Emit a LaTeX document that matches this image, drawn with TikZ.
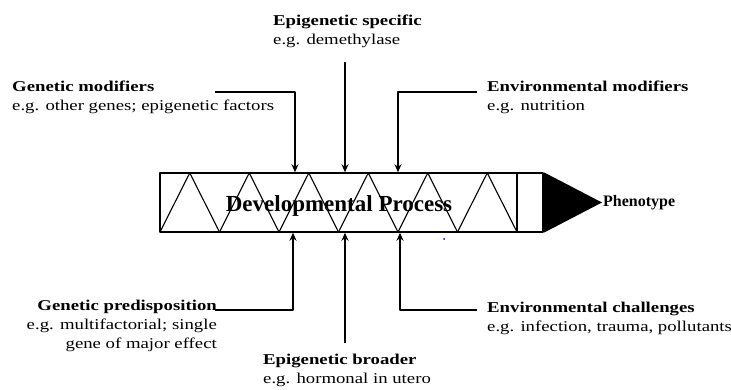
\documentclass[tikz,border=0pt]{standalone}
\usepackage{fontspec}
\setmainfont{Liberation Serif}[FakeStretch=1.25]
\newfontfamily\procfont{Liberation Serif}
\usetikzlibrary{arrows.meta}
\begin{document}
\begin{tikzpicture}[x=1pt,y=-1pt,>={Stealth[length=8pt,width=7pt]},line join=round,
  lbl/.style={inner sep=0pt,font=\fontsize{15}{19}\selectfont},
  link/.style={->,line width=1.5pt}]
\useasboundingbox (0,0) rectangle (731,390);
\def\xl{160} \def\xm{517} \def\w{59.5} % zigzag
\def\yt{173} \def\yb{232}
% the process bar
\node[draw,line width=1.5pt,minimum width=383pt,minimum height=59pt,inner sep=0pt] (proc) at (351.5,202.5) {};
\foreach \i in {0,...,5}
  \draw[line width=1.1pt] ({\xl+\i*\w},\yb) -- ({\xl+\i*\w+\w/2},\yt) -- ({\xl+(\i+1)*\w},\yb);
\draw[line width=1.5pt] (\xm,\yt) -- (\xm,\yb);
\node[anchor=base,inner sep=0pt,font=\procfont\bfseries\fontsize{23}{26}\selectfont] (dp) at (339,212) {Developmental Process};
\fill (proc.north east) -- (602,202.5) coordinate (tip) -- (proc.south east) -- cycle;
\node[anchor=west,inner sep=1pt,font=\procfont\bfseries\fontsize{16}{19}\selectfont] (pheno) at (tip) {Phenotype};
% influences from above
\node[lbl,anchor=north west,align=left] (gmod) at (12,81) {\textbf{Genetic modifiers}\\e.g. other genes; epigenetic factors};
\node[lbl,anchor=north west,align=left] (espec) at (273,15) {\textbf{Epigenetic specific}\\e.g. demethylase};
\node[lbl,anchor=north west,align=left] (emod) at (487,81) {\textbf{Environmental modifiers}\\e.g. nutrition};
\coordinate (gm1) at (215,92); \coordinate (gm2) at (295,92);
\coordinate (es1) at (345,62);
\coordinate (em1) at (477,92); \coordinate (em2) at (398,92);
\draw[link] (gm1) -- (gm2) -- (gm2 |- proc.north);
\draw[link] (es1) -- (es1 |- proc.north);
\draw[link] (em1) -- (em2) -- (em2 |- proc.north);
% influences from below
\node[lbl,anchor=north east,align=right] (gpred) at (217,300) {\textbf{Genetic predisposition}\\e.g. multifactorial; single\\gene of major effect};
\node[lbl,anchor=north west,align=left] (ebroad) at (263,354) {\textbf{Epigenetic broader}\\e.g. hormonal in utero};
\node[lbl,anchor=north west,align=left] (echal) at (487,302) {\textbf{Environmental challenges}\\e.g. infection, trauma, pollutants};
\coordinate (gp1) at (215,310); \coordinate (gp2) at (293,310);
\coordinate (eb1) at (345,343);
\coordinate (ec1) at (477,310); \coordinate (ec2) at (400,310);
\draw[link] (gp1) -- (gp2) -- (gp2 |- proc.south);
\draw[link] (eb1) -- (eb1 |- proc.south);
\draw[link] (ec1) -- (ec2) -- (ec2 |- proc.south);
\fill[blue] (444,239) circle (1);
\end{tikzpicture}
\end{document}
